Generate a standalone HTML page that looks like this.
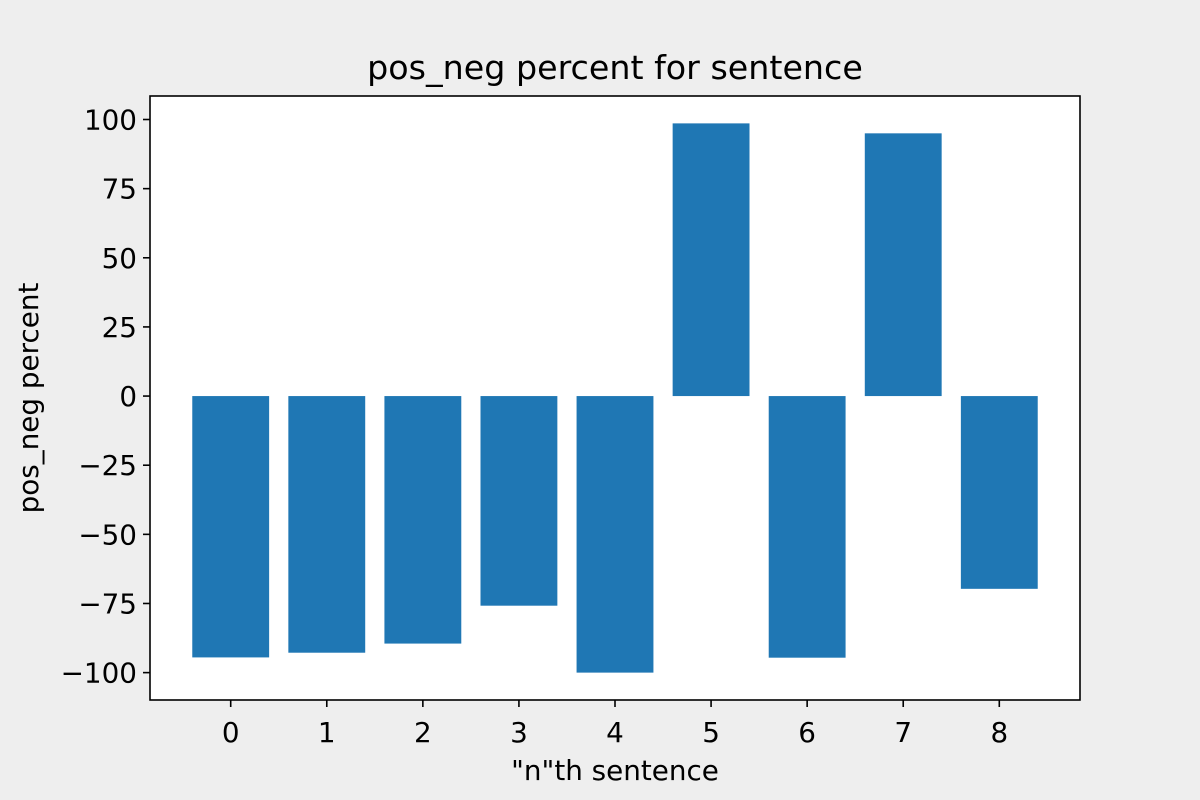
<!DOCTYPE html>
<html><head><meta charset="utf-8"><style>
body{margin:0;background:#eeeeee;}
svg{display:block;font-family:"DejaVu Sans","Liberation Sans",sans-serif;}
</style></head><body>
<svg id="chart" width="1200" height="800">
<rect x="0" y="0" width="1200" height="800" fill="#eeeeee"/>
<rect x="150" y="96" width="930" height="604" fill="#ffffff"/>
<g id="bars"></g>
<g id="axes"></g>
<rect x="150" y="96" width="930" height="604" fill="none" stroke="#000" stroke-width="1.6"/>
<text x="615" y="79" font-size="33.3" text-anchor="middle">pos_neg percent for sentence</text>
<text x="615" y="780" font-size="27.8" text-anchor="middle">"n"th sentence</text>
<text x="38" y="398" font-size="27.8" text-anchor="middle" transform="rotate(-90 38 398)">pos_neg percent</text>
</svg>
<script>
const categories = [0,1,2,3,4,5,6,7,8];
const values = [-94.5,-92.8,-89.5,-75.8,-100,98.6,-94.6,95,-69.7];
const yTicks = [-100,-75,-50,-25,0,25,50,75,100];
const ns='http://www.w3.org/2000/svg';
const L=150,R=1080,T=96,B=700;
const xmin=-0.84,xmax=8.84,ymin=-109.9,ymax=108.5;
const xs=v=>L+(v-xmin)/(xmax-xmin)*(R-L);
const ys=v=>B-(v-ymin)/(ymax-ymin)*(B-T);
const bars=document.getElementById('bars'),axes=document.getElementById('axes');
function mk(t,a,p){const e=document.createElementNS(ns,t);for(const k in a)e.setAttribute(k,a[k]);p.appendChild(e);return e;}
categories.forEach((c,i)=>{
  const v=values[i];const y0=ys(0),y1=ys(v);
  const r=mk('rect',{x:xs(c-0.4),y:Math.min(y0,y1),width:xs(c+0.4)-xs(c-0.4),height:Math.abs(y1-y0),fill:'#1f77b4'},bars);
  
  
  const t=mk('line',{x1:xs(c),x2:xs(c),y1:B,y2:B+7,stroke:'#000','stroke-width':1.6},axes);
  
  
  const l=mk('text',{x:xs(c),y:B+42,'font-size':27.8,'text-anchor':'middle'},axes);
  l.textContent=String(c);
  
  
});
yTicks.forEach(v=>{
  const t=mk('line',{x1:L-7,x2:L,y1:ys(v),y2:ys(v),stroke:'#000','stroke-width':1.6},axes);
  
  
  const l=mk('text',{x:L-13,y:ys(v)+10,'font-size':27.8,'text-anchor':'end'},axes);
  l.textContent=v<0?'\u2212'+Math.abs(v):String(v);
  
  
});
</script>
</body></html>
